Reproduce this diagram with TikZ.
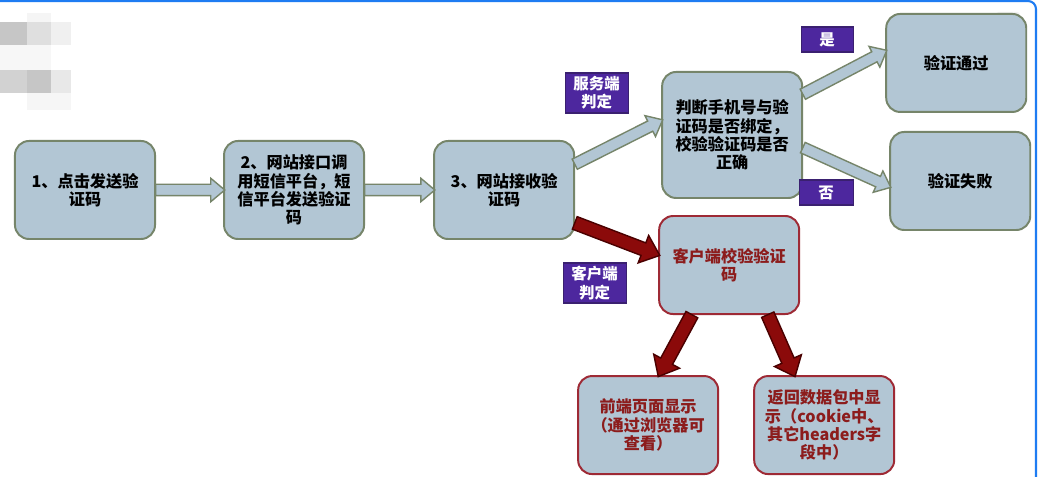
\documentclass[tikz,border=0pt]{standalone}
\usepackage{fontspec}
\setmainfont{Noto Sans CJK SC}
\usepackage{tikz}
\usetikzlibrary{shapes.arrows,positioning,calc}
\definecolor{boxblue}{HTML}{B2C6D4}
\definecolor{boxline}{HTML}{76856A}
\definecolor{clientred}{HTML}{9E2A35}
\definecolor{clienttext}{HTML}{8C1C1C}
\definecolor{tagpurple}{HTML}{4D279E}
\definecolor{tagline}{HTML}{3A2070}
\definecolor{arrowred}{HTML}{8B0A0A}
\definecolor{arrowdark}{HTML}{4A0000}
\definecolor{frameblue}{HTML}{1E7CF2}

% block arrow from one anchor to another
\newcommand{\flowarrow}[3][]{%
  \path let \p1=(#2), \p2=(#3),
    \n1={atan2(\y2-\y1,\x2-\x1)}, \n2={veclen(\x2-\x1,\y2-\y1)} in
    node[#1, rotate=\n1, minimum height=\n2, anchor=tail] at (\p1) {};}

\begin{document}
\begin{tikzpicture}[x=0.025cm, y=-0.025cm,
  every node/.style={align=center, font=\fontsize{11.5}{13}\selectfont\bfseries},
  stepbox/.style={draw=boxline, line width=1.4pt, outer sep=0pt, rounded corners=0.35cm, fill=boxblue, minimum width=3.5cm, minimum height=2.45cm},
  clientbox/.style={stepbox, draw=clientred, text=clienttext},
  tag/.style={draw=tagline, line width=0.8pt, outer sep=0pt, fill=tagpurple, text=white, inner sep=0pt, font=\fontsize{11}{13}\selectfont\bfseries},
  bluearrow/.style={single arrow, draw=boxline, fill=boxblue, line width=1pt, inner sep=0.125cm, single arrow head extend=0.15cm, single arrow tip angle=80, single arrow head indent=0pt},
  redarrow/.style={single arrow, draw=arrowdark, fill=arrowred, line width=1pt, inner sep=0.15cm, single arrow head extend=0.2cm, single arrow tip angle=80, single arrow head indent=0pt}
]
\useasboundingbox (0,0) rectangle (1038,477);
\fill[white] (0,0) rectangle (1038,477);
\draw[frameblue, line width=1.5pt, rounded corners=0.2cm] (-20,1) -- (1036,1) -- (1036,500);

% blurred corner
\fill[gray!45] (0,22) rectangle (27,45);
\fill[gray!25] (27,22) rectangle (51,45);
\fill[gray!12] (51,22) rectangle (71,45);
\fill[gray!8] (27,13) rectangle (51,22);
\fill[gray!6] (0,45) rectangle (51,70);
\fill[gray!35] (0,70) rectangle (27,93);
\fill[gray!45] (27,70) rectangle (51,93);
\fill[gray!18] (51,70) rectangle (71,93);
\fill[gray!7] (27,93) rectangle (71,110);
\node[fill=gray!10, rounded corners=2pt, inner sep=1pt, minimum width=0.5cm, minimum height=0.4cm, font=\tiny] (menu) at (1008,20) {•••};

\node[stepbox] (n1) at (85,190) {1、点击发送验\\证码};
\node[stepbox, right=1.725cm of n1] (n2) {2、网站接口调\\用短信平台，短\\信平台发送验证\\码};
\node[stepbox, right=1.75cm of n2] (n3) {3、网站接收验\\证码};

\node[stepbox, minimum height=3.15cm, right=2.2cm of n3, yshift=1.375cm] (judge) {判断手机号与验\\证码是否绑定，\\校验验证码是否\\正确};
\node[stepbox, right=2.1cm of judge, yshift=1.8cm] (pass) {验证通过};
\node[stepbox, right=2.2cm of judge, yshift=-1.15cm] (fail) {验证失败};

\node[clientbox, right=2.125cm of n3, yshift=-1.875cm] (client) {客户端校验验证\\码};
\node[clientbox, below=1.55cm of client, xshift=-2.025cm] (front) {前端页面显示\\（通过浏览器可\\查看）};
\node[clientbox, below=1.55cm of client, xshift=2.375cm] (back) {返回数据包中显\\示（cookie中、\\其它headers字\\段中）};

\node[tag, minimum width=1.575cm, minimum height=1cm, left=0.85cm of judge, yshift=1.05cm] (server) {服务端\\判定};
\node[tag, minimum width=1.3cm, minimum height=0.625cm, above right=0.5cm and -0.025cm of judge.north east] (yes) {是};
\node[tag, minimum width=1.35cm, minimum height=0.625cm, below right=1.125cm and -0.075cm of judge.east] (no) {否};
\node[tag, minimum width=1.575cm, minimum height=1cm, left=0.825cm of client, yshift=-0.45cm] (clienttag) {客户端\\判定};

\flowarrow[bluearrow]{n1.east}{n2.west}
\flowarrow[bluearrow]{n2.east}{n3.west}
\flowarrow[bluearrow]{n3.20}{judge.168}
\flowarrow[bluearrow]{judge.30}{pass.170}
\flowarrow[bluearrow]{judge.-10}{fail.185}

\flowarrow[redarrow]{n3.-25}{client.172}
\flowarrow[redarrow]{client.233}{front.78}
\flowarrow[redarrow]{client.-52}{back.121}
\end{tikzpicture}
\end{document}
